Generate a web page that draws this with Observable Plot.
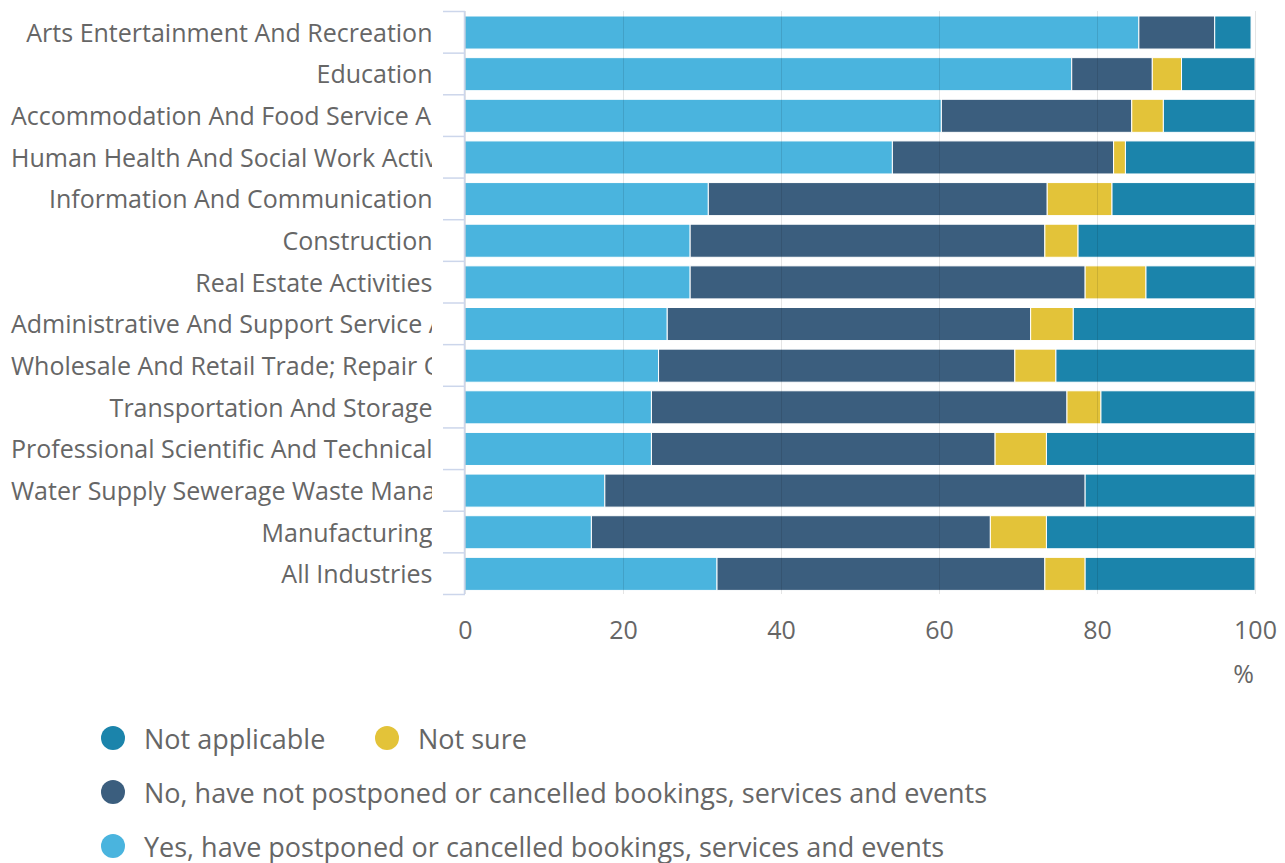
<!DOCTYPE html>
<html><head><meta charset="utf-8">
<script src="https://cdn.jsdelivr.net/npm/d3@7"></script>
<script src="https://cdn.jsdelivr.net/npm/@observablehq/plot@0.6"></script>
<style>
body{margin:0;background:#fff;font-family:"Open Sans",sans-serif;}
#chart{position:relative;width:1285px;height:863px;overflow:hidden;}
#chart svg{position:absolute;left:0;top:0;}
.item{position:absolute;display:flex;align-items:center;font-size:27px;color:#666;white-space:nowrap;height:30px;}
.dot{width:24px;height:24px;border-radius:50%;margin-right:19px;flex:none;}
</style></head><body><div id="chart"></div><script>
const categories = [
  "Arts Entertainment And Recreation",
  "Education",
  "Accommodation And Food Service Activities",
  "Human Health And Social Work Activities",
  "Information And Communication",
  "Construction",
  "Real Estate Activities",
  "Administrative And Support Service Activities",
  "Wholesale And Retail Trade; Repair Of Motor Vehicles And Motorcycles",
  "Transportation And Storage",
  "Professional Scientific And Technical Activities",
  "Water Supply Sewerage Waste Management And Remediation Activities",
  "Manufacturing",
  "All Industries"
];
const series = [
  "Yes, have postponed or cancelled bookings, services and events",
  "No, have not postponed or cancelled bookings, services and events",
  "Not sure",
  "Not applicable"
];
const yesValues           = [85.3, 76.8, 60.3, 54.1, 30.8, 28.5, 28.5, 25.6, 24.5, 23.6, 23.6, 17.7, 16.0, 31.9];
const noValues            = [ 9.6, 10.2, 24.1, 28.0, 42.9, 44.9, 50.0, 46.0, 45.1, 52.6, 43.5, 60.8, 50.5, 41.5];
const notSureValues       = [ 0.0,  3.7,  4.0,  1.5,  8.2,  4.2,  7.7,  5.4,  5.2,  4.3,  6.5,  0.0,  7.1,  5.1];
const notApplicableValues = [ 4.6,  9.3, 11.6, 16.4, 18.1, 22.4, 13.8, 23.0, 25.2, 19.5, 26.4, 21.5, 26.4, 21.5];
const colors = ["#4ab4de", "#3b5e7e", "#e3c339", "#1b84ab"];
const xTicks = [0, 20, 40, 60, 80, 100];
const xLabel = "%";
const legendOrder = [3, 2, 1, 0];

const valuesBySeries = [yesValues, noValues, notSureValues, notApplicableValues];
const data = categories.flatMap((c, i) =>
  series.map((s, j) => ({category: c, series: s, value: valuesBySeries[j][i]}))
).filter(d => d.value > 0);

const W = 1285, H = 700, mt = 11, mb = 106, ml = 465, mr = 30;
const step = (H - mt - mb) / categories.length;

const chart = Plot.plot({
  width: W, height: H,
  marginTop: mt, marginBottom: mb, marginLeft: ml, marginRight: mr,
  style: {fontFamily: '"Open Sans", sans-serif', fontSize: "25px", color: "#666", background: "transparent", overflow: "visible"},
  x: {domain: [0, 100]},
  y: {domain: categories, padding: 0, round: false},
  color: {domain: series, range: colors},
  marks: [
    Plot.barX(data, Plot.stackX({
      x: "value", y: "category", fill: "series", z: "series", order: series,
      insetTop: 5, insetBottom: 3.6, stroke: "#fff", strokeWidth: 1
    })),
    Plot.gridX({ticks: xTicks, stroke: "#000", strokeOpacity: 0.1, strokeWidth: 1}),
    Plot.ruleX([0], {stroke: "#ccd6eb", strokeWidth: 1.5, dx: -1}),
    Plot.axisY({label: null, tickSize: 22, stroke: "#ccd6eb", strokeOpacity: 1, strokeWidth: 1.5, dy: -step / 2, tickFormat: () => ""}),
    Plot.axisY({label: null, ticks: [categories[categories.length - 1]], tickSize: 22, stroke: "#ccd6eb", strokeOpacity: 1, strokeWidth: 1.5, dy: step / 2, tickFormat: () => ""}),
    Plot.axisY({label: null, tickSize: 0, tickPadding: 33, fill: "#666", fontSize: 25, dy: 1.5}),
    Plot.axisX({ticks: xTicks, tickSize: 0, tickPadding: 27, fill: "#666", fontSize: 25,
      label: xLabel, labelAnchor: "right", labelArrow: "none", labelOffset: 88})
  ]
});

const host = document.getElementById("chart");
host.append(chart);
const svg = chart.tagName.toLowerCase() === "svg" ? chart : chart.querySelector("svg");
const ns = "http://www.w3.org/2000/svg";

// truncate long y labels like the original (start-aligned, clipped)
const clipLeft = 10, clipRight = 432;
const groups = [...svg.querySelectorAll('g[aria-label="y-axis tick label"]')];
const labelGroup = groups.find(g => [...g.querySelectorAll("text")].some(t => t.textContent.trim()));
if (labelGroup) {
  const svgLeft = svg.getBoundingClientRect().left;
  for (const t of labelGroup.querySelectorAll("text")) {
    const r = t.getBoundingClientRect();
    if (r.width > clipRight - clipLeft - 1) {
      t.setAttribute("text-anchor", "start");
      const r2 = t.getBoundingClientRect();
      t.setAttribute("dx", (svgLeft + clipLeft + 1) - r2.left);
    }
  }
  const cp = document.createElementNS(ns, "clipPath");
  cp.setAttribute("id", "ylabclip");
  const rect = document.createElementNS(ns, "rect");
  rect.setAttribute("x", clipLeft); rect.setAttribute("y", 0);
  rect.setAttribute("width", clipRight - clipLeft); rect.setAttribute("height", H);
  cp.append(rect); svg.append(cp);
  const wrap = document.createElementNS(ns, "g");
  wrap.setAttribute("clip-path", "url(#ylabclip)");
  labelGroup.parentNode.insertBefore(wrap, labelGroup);
  wrap.append(labelGroup);
}

// move the "%" axis label so it ends at the frame's right edge
const xl = svg.querySelector('g[aria-label="x-axis label"]');
if (xl) {
  const svgRect = svg.getBoundingClientRect();
  const r = xl.getBoundingClientRect();
  const shift = (svgRect.left + W - mr - 1) - r.right;
  const wrap = document.createElementNS(ns, "g");
  wrap.setAttribute("transform", `translate(${shift},0)`);
  xl.parentNode.insertBefore(wrap, xl);
  wrap.append(xl);
}

// legend
const legendPos = [[101, 723], [375, 723], [101, 777], [101, 831]];
legendOrder.forEach((si, k) => {
  const it = document.createElement("div");
  it.className = "item";
  it.style.left = legendPos[k][0] + "px";
  it.style.top = legendPos[k][1] + "px";
  const dot = document.createElement("span");
  dot.className = "dot";
  dot.style.background = colors[si];
  const tx = document.createElement("span");
  tx.textContent = series[si];
  it.append(dot, tx);
  host.append(it);
});
</script></body></html>
